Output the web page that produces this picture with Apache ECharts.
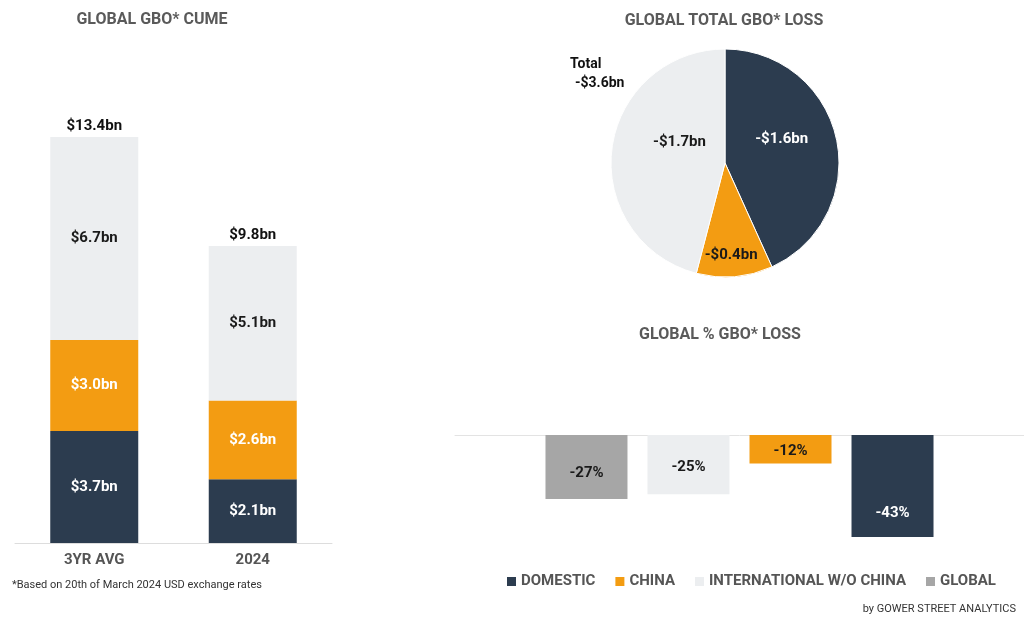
<!DOCTYPE html>
<html>
<head>
<meta charset="utf-8">
<script src="https://cdn.jsdelivr.net/npm/echarts@6/dist/echarts.min.js"></script>
<style>
html,body{margin:0;padding:0;background:#fff;}
#chart{width:1024px;height:624px;}
</style>
</head>
<body>
<div id="chart"></div>
<script>
// ---- Data ----
const cumeCategories = ['3YR AVG', '2024'];
const cumeDomestic = [3.7, 2.1];
const cumeChina = [3.0, 2.6];
const cumeIntl = [6.7, 5.1];
const cumeTotals = [13.4, 9.8];

const lossNames = ['Domestic', 'China', 'International w/o China'];
const lossValues = [1.6, 0.4, 1.7];
const lossTotal = 3.6;

const pctSeriesNames = ['GLOBAL', 'INTERNATIONAL W/O CHINA', 'CHINA', 'DOMESTIC'];
const pctValues = [-27, -25, -12, -43];
const legendOrder = ['DOMESTIC', 'CHINA', 'INTERNATIONAL W/O CHINA', 'GLOBAL'];

// ---- Styles ----
const NAVY = '#2c3c4f', ORANGE = '#f39c12', LIGHT = '#eceef0', GRAY = '#a6a6a6';
const FONT = 'Roboto';
const pctColors = [GRAY, LIGHT, ORANGE, NAVY];
const pctLabelColors = ['#1a1a1a', '#1a1a1a', '#1a1a1a', '#ffffff'];
const pctLabelOffsets = [[0, 6], [0, 3], [0, 2], [0, 27]];

const chart = echarts.init(document.getElementById('chart'), null, {renderer: 'canvas'});

const lbl = (color) => ({
  show: true, position: 'inside', color: color, fontFamily: FONT, fontWeight: 'bold', fontSize: 15,
  formatter: p => '$' + Number(p.value).toFixed(1) + 'bn'
});

const series = [
  {name: 'Domestic cume', type: 'bar', stack: 'cume', xAxisIndex: 0, yAxisIndex: 0, barWidth: 88,
   itemStyle: {color: NAVY}, label: lbl('#ffffff'), data: cumeDomestic},
  {name: 'China cume', type: 'bar', stack: 'cume', xAxisIndex: 0, yAxisIndex: 0, barWidth: 88,
   itemStyle: {color: ORANGE}, label: lbl('#ffffff'), data: cumeChina},
  {name: 'Intl cume', type: 'bar', stack: 'cume', xAxisIndex: 0, yAxisIndex: 0, barWidth: 88,
   itemStyle: {color: LIGHT}, label: lbl('#1a1a1a'), data: cumeIntl},
  {name: 'Total cume', type: 'bar', xAxisIndex: 0, yAxisIndex: 0, barWidth: 88, barGap: '-100%', z: 1,
   itemStyle: {color: 'rgba(0,0,0,0)'}, silent: true,
   label: {show: true, position: 'top', distance: 3, color: '#111111', fontFamily: FONT, fontWeight: 'bold', fontSize: 15,
           formatter: p => '$' + Number(p.value).toFixed(1) + 'bn'},
   data: cumeTotals},
  {name: 'Total loss', type: 'pie', center: [725, 163], radius: [0, 114], startAngle: 90, clockwise: true,
   silent: true,
   itemStyle: {borderColor: '#fff', borderWidth: 1},
   label: {show: true, position: 'inside', fontFamily: FONT, fontWeight: 'bold', fontSize: 15,
           formatter: p => '-$' + Number(p.value).toFixed(1) + 'bn'},
   labelLine: {show: false},
   data: [
     {name: lossNames[0], value: lossValues[0], itemStyle: {color: NAVY}, label: {color: '#fff', offset: [-2, -11]}},
     {name: lossNames[1], value: lossValues[1], itemStyle: {color: ORANGE}, label: {color: '#1a1a1a', offset: [1, 32]}},
     {name: lossNames[2], value: lossValues[2], itemStyle: {color: LIGHT}, label: {color: '#1a1a1a', offset: [14, -13]}}
   ]}
];

pctSeriesNames.forEach((n, i) => {
  series.push({
    name: n, type: 'bar', xAxisIndex: 1, yAxisIndex: 1, barWidth: 82, barGap: '24.4%',
    itemStyle: {color: pctColors[i]},
    label: {show: true, position: 'inside', offset: pctLabelOffsets[i], color: pctLabelColors[i],
            fontFamily: FONT, fontWeight: 'bold', fontSize: 15, formatter: p => p.value + '%'},
    data: [pctValues[i]]
  });
});

const txt = (x, y, text, font, color, align) => ({
  type: 'text', x: x, y: y, silent: true,
  style: {text: text, font: font, fill: color, align: align || 'left', verticalAlign: 'middle'}
});

chart.setOption({
  animation: false,
  backgroundColor: '#ffffff',
  grid: [
    {left: 15, width: 317, top: 137, bottom: 81},
    {left: 455, right: 0, top: 435, bottom: 87}
  ],
  xAxis: [
    {gridIndex: 0, type: 'category', data: cumeCategories,
     axisLine: {lineStyle: {color: '#dddddd', width: 1}}, axisTick: {show: false},
     axisLabel: {color: '#555', fontFamily: FONT, fontWeight: 'bold', fontSize: 15, margin: 10}},
    {gridIndex: 1, type: 'category', data: [''],
     axisLine: {lineStyle: {color: '#e3e3e3', width: 1}}, axisTick: {show: false}, axisLabel: {show: false}}
  ],
  yAxis: [
    {gridIndex: 0, type: 'value', min: 0, max: 13.4, show: false},
    {gridIndex: 1, type: 'value', min: -43, max: 0, show: false}
  ],
  legend: {
    data: legendOrder, left: 502, top: 569, itemWidth: 9, itemHeight: 9, itemGap: 20, icon: 'rect',
    selectedMode: false,
    textStyle: {color: '#555', fontFamily: FONT, fontWeight: 'bold', fontSize: 15}
  },
  graphic: [
    txt(152, 20, 'GLOBAL GBO* CUME', 'bold 16px Roboto', '#5a5a5a', 'center'),
    txt(724, 21, 'GLOBAL TOTAL GBO* LOSS', 'bold 16px Roboto', '#5a5a5a', 'center'),
    txt(720, 335, 'GLOBAL % GBO* LOSS', 'bold 16px Roboto', '#5a5a5a', 'center'),
    txt(570, 64, 'Total', 'bold 14px Roboto', '#111', 'left'),
    txt(575, 83, '-$' + lossTotal.toFixed(1) + 'bn', 'bold 14px Roboto', '#111', 'left'),
    txt(12, 585, '*Based on 20th of March 2024 USD exchange rates', '11px Roboto', '#333', 'left'),
    txt(1016, 609, 'by GOWER STREET ANALYTICS', '11px Roboto', '#333', 'right')
  ],
  series: series
});
</script>
</body>
</html>
